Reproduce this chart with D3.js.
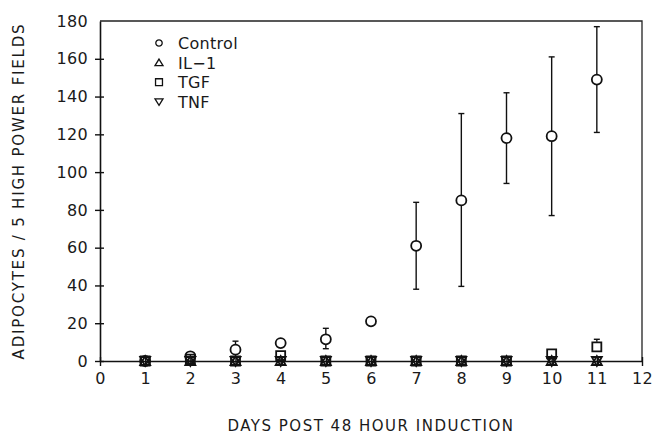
<!DOCTYPE html>
<html>
<head>
<meta charset="utf-8">
<script src="https://cdnjs.cloudflare.com/ajax/libs/d3/7.8.5/d3.min.js"></script>
<style>
  body { margin: 0; background: #fff; }
  text { font-family: "DejaVu Sans", sans-serif; fill: #1a1a1a; }
  .tick text { font-size: 16px; letter-spacing: 0.3px; }
</style>
</head>
<body>
<svg width="653" height="437"></svg>
<script>
// days after induction
var days = [1, 2, 3, 4, 5, 6, 7, 8, 9, 10, 11];

// control: mean and error bar ends
var controlMean = [0, 2.5, 6, 9.5, 11.5, 21, 61, 85, 118, 119, 149];
var controlHi   = [0, 3, 10.5, 9.5, 17.3, 21, 84, 131, 142, 161, 177];
var controlLo   = [0, 2, 6, 9.5, 6.5, 21, 38, 39.5, 94, 77, 121];

var il1Mean = [0, 0, 0, 0, 0, 0, 0, 0, 0, 0, 0];
var tgfMean = [0, 1, 0, 2.8, 0, 0, 0, 0, 0, 3.8, 7.5];
var tgfHi   = [0, 1, 0, 2.8, 0, 0, 0, 0, 0, 6.5, 11.5];
var tnfMean = [0, 0, 0, 0, 0, 0, 0, 0, 0, 0, 0];

var yTicks = [0, 20, 40, 60, 80, 100, 120, 140, 160, 180];
var xTicks = [0, 1, 2, 3, 4, 5, 6, 7, 8, 9, 10, 11, 12];
var legendNames = ["Control", "IL\u22121", "TGF", "TNF"];

var svg = d3.select("svg"),
    margin = {top: 21, right: 11, bottom: 76, left: 100},
    width = 653 - margin.left - margin.right,
    height = 437 - margin.top - margin.bottom;

var g = svg.append("g").attr("transform", "translate(" + margin.left + "," + margin.top + ")");

var x = d3.scaleLinear().domain([0, 12]).range([0, width]);
var y = d3.scaleLinear().domain([0, 180]).range([height, 0]);

// frame (top and right sides)
g.append("path")
    .attr("d", "M0,0H" + width + "V" + height)
    .attr("fill", "none").attr("stroke", "#222").attr("stroke-width", 1.3);

var xAxis = g.append("g")
    .attr("transform", "translate(0," + height + ")")
    .call(d3.axisBottom(x).tickValues(xTicks).tickFormat(d3.format("d")).tickSizeInner(5).tickSizeOuter(0).tickPadding(7));
xAxis.selectAll(".tick line").attr("y1", -4);

var yAxis = g.append("g")
    .call(d3.axisLeft(y).tickValues(yTicks).tickSizeInner(5).tickSizeOuter(0).tickPadding(7));
yAxis.selectAll(".tick line").attr("x1", 4).filter(function(d) { return d === 180; }).remove();

g.selectAll(".domain").attr("stroke", "#111").attr("stroke-width", 1.6);
g.selectAll(".tick line").attr("stroke", "#111").attr("stroke-width", 1.4);
g.selectAll(".tick text").attr("fill", "#1a1a1a");

// axis titles
svg.append("text")
    .attr("x", 371).attr("y", 431)
    .attr("text-anchor", "middle")
    .style("font-size", "15px").style("letter-spacing", "1.5px")
    .text("DAYS POST 48 HOUR INDUCTION");

svg.append("text")
    .attr("transform", "translate(24,191) rotate(-90)")
    .attr("text-anchor", "middle")
    .style("font-size", "15px").style("letter-spacing", "1.8px")
    .text("ADIPOCYTES / 5 HIGH POWER FIELDS");

var r = 5;
var sym = {
  circle: function() { return d3.symbol(d3.symbolCircle, Math.PI * r * r)(); },
  square: function() { return d3.symbol(d3.symbolSquare, 81)(); },
  up: function() { return "M0,-5L5,4L-5,4Z"; },
  down: function() { return "M0,5L5,-4L-5,-4Z"; }
};

function errorBars(means, his, los) {
  var eb = g.append("g").attr("stroke", "#111").attr("stroke-width", 1.4);
  days.forEach(function(d, i) {
    var cx = x(d), cy = y(means[i]);
    if (his && y(his[i]) < cy - r - 1) {
      eb.append("line").attr("x1", cx).attr("x2", cx).attr("y1", cy - r).attr("y2", y(his[i]));
      eb.append("line").attr("x1", cx - 3).attr("x2", cx + 3).attr("y1", y(his[i])).attr("y2", y(his[i]));
    }
    if (los && y(los[i]) > cy + r + 1) {
      eb.append("line").attr("x1", cx).attr("x2", cx).attr("y1", cy + r).attr("y2", y(los[i]));
      eb.append("line").attr("x1", cx - 3).attr("x2", cx + 3).attr("y1", y(los[i])).attr("y2", y(los[i]));
    }
  });
}

function markers(means, shape) {
  g.append("g").selectAll("path")
    .data(days)
    .join("path")
    .attr("transform", function(d, i) { return "translate(" + x(d) + "," + y(means[i]) + ")"; })
    .attr("d", sym[shape]())
    .attr("fill", "none").attr("stroke", "#111").attr("stroke-width", 1.8);
}

errorBars(controlMean, controlHi, controlLo);
errorBars(tgfMean, tgfHi, null);
markers(il1Mean, "up");
markers(tnfMean, "down");
markers(tgfMean, "square");
markers(controlMean, "circle");

// legend
var legend = svg.append("g").selectAll("g")
    .data(legendNames)
    .join("g")
    .attr("transform", function(d, i) { return "translate(159," + (43 + i * 19.6) + ")"; });
legend.append("path")
    .attr("d", function(d, i) { return i === 0 ? d3.symbol(d3.symbolCircle, 32)() : i === 2 ? d3.symbol(d3.symbolSquare, 48)() : i === 1 ? "M0,-3.5L4,3L-4,3Z" : "M0,3.5L4,-3L-4,-3Z"; })
    .attr("fill", "none").attr("stroke", "#111").attr("stroke-width", 1.3);
legend.append("text")
    .attr("x", 19).attr("y", 6)
    .style("font-size", "16px").style("letter-spacing", "0.3px")
    .text(function(d) { return d; });
</script>
</body>
</html>
